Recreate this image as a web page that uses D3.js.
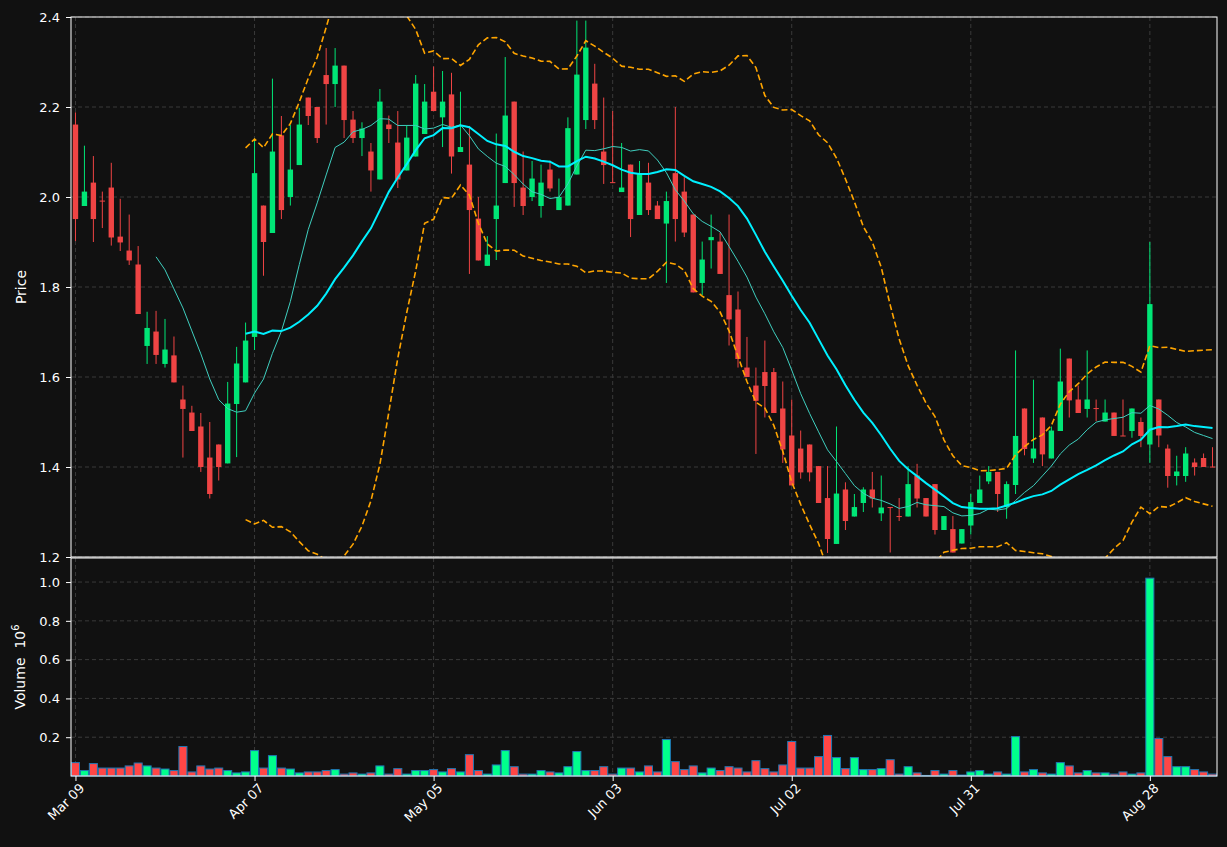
<!DOCTYPE html>
<html><head><meta charset="utf-8">
<script src="https://cdn.jsdelivr.net/npm/d3@7"></script>
<style>body{margin:0;background:#111111;}svg{display:block;}</style>
</head><body>
<script>
const tickLabels = ["Mar 09","Apr 07","May 05","Jun 03","Jul 02","Jul 31","Aug 28"];
const tickIndex = [0,20,40,60,80,100,120];
const open  = [2.161,1.980,2.032,1.992,2.021,1.912,1.881,1.850,1.669,1.701,1.629,1.648,1.550,1.521,1.490,1.421,1.450,1.408,1.540,1.588,
1.689,1.981,1.920,2.137,2.000,2.071,2.221,2.200,2.271,2.251,2.292,2.172,2.131,2.101,2.039,2.161,2.121,2.059,2.090,2.140,
2.234,2.177,2.228,2.100,2.072,1.952,1.847,1.951,2.031,2.212,2.021,2.000,1.980,2.061,1.971,1.981,2.050,2.171,2.252,2.101,
2.033,2.011,2.072,1.960,2.032,1.981,1.941,2.053,2.012,1.961,1.809,1.904,1.901,1.782,1.750,1.621,1.581,1.611,1.611,1.530,
1.470,1.441,1.450,1.402,1.331,1.229,1.350,1.290,1.320,1.350,1.297,1.311,1.291,1.290,1.381,1.331,1.362,1.260,1.262,1.230,
1.270,1.320,1.368,1.389,1.311,1.360,1.530,1.419,1.510,1.419,1.480,1.641,1.550,1.529,1.531,1.501,1.521,1.470,1.480,1.500,
1.450,1.550,1.441,1.380,1.380,1.410,1.420,1.401];
const close = [1.951,2.012,1.951,1.991,1.910,1.899,1.859,1.740,1.709,1.649,1.661,1.588,1.529,1.480,1.400,1.340,1.400,1.541,1.630,1.681,
2.053,1.900,2.101,1.971,2.061,2.161,2.180,2.131,2.251,2.292,2.171,2.131,2.152,2.059,2.212,2.151,2.039,2.132,2.252,2.212,
2.191,2.212,2.090,2.111,1.971,1.859,1.872,1.981,2.181,2.031,1.980,2.041,2.032,2.019,2.000,2.153,2.272,2.332,2.171,2.071,
2.031,2.021,1.951,2.051,1.971,1.951,1.991,1.951,1.921,1.788,1.861,1.911,1.829,1.728,1.640,1.600,1.547,1.580,1.520,1.439,
1.359,1.388,1.388,1.320,1.240,1.341,1.280,1.311,1.350,1.330,1.310,1.309,1.289,1.362,1.330,1.290,1.260,1.291,1.210,1.262,
1.322,1.350,1.389,1.340,1.362,1.469,1.440,1.441,1.428,1.481,1.590,1.548,1.520,1.550,1.529,1.521,1.469,1.469,1.530,1.469,
1.762,1.470,1.380,1.390,1.430,1.400,1.400,1.400];
const high  = [2.188,2.114,2.091,2.012,2.076,1.996,1.961,1.891,1.745,1.747,1.729,1.690,1.581,1.536,1.520,1.500,1.450,1.589,1.667,1.721,
2.130,1.981,2.263,2.180,2.160,2.198,2.221,2.200,2.331,2.331,2.292,2.191,2.166,2.120,2.240,2.181,2.191,2.160,2.271,2.251,
2.290,2.280,2.276,2.234,2.158,2.000,1.913,2.141,2.311,2.212,2.101,2.080,2.072,2.081,2.041,2.177,2.392,2.392,2.296,2.221,
2.191,2.120,2.072,2.080,2.076,1.991,2.012,2.200,2.044,1.961,1.901,1.961,1.921,1.961,1.790,1.689,1.621,1.681,1.620,1.590,
1.550,1.481,1.450,1.402,1.402,1.490,1.366,1.340,1.355,1.389,1.381,1.311,1.331,1.402,1.407,1.331,1.362,1.291,1.291,1.262,
1.340,1.381,1.402,1.389,1.368,1.659,1.530,1.594,1.510,1.490,1.663,1.641,1.581,1.659,1.550,1.550,1.521,1.550,1.530,1.510,
1.900,1.550,1.450,1.425,1.444,1.419,1.430,1.444];
const low   = [1.902,1.980,1.900,1.931,1.892,1.880,1.849,1.740,1.629,1.629,1.621,1.588,1.421,1.480,1.389,1.330,1.370,1.408,1.422,1.588,
1.660,1.825,1.920,1.951,1.981,2.071,2.160,2.120,2.161,2.200,2.131,2.120,2.091,2.012,2.039,2.120,2.020,2.059,2.090,2.140,
2.191,2.111,2.052,2.100,1.829,1.859,1.847,1.860,2.031,1.978,1.960,1.991,1.954,2.012,1.971,1.981,2.050,2.151,2.151,2.029,
2.031,2.011,1.911,1.960,1.960,1.951,1.809,1.901,1.911,1.788,1.782,1.841,1.829,1.670,1.621,1.600,1.429,1.510,1.520,1.409,
1.359,1.374,1.368,1.320,1.209,1.229,1.260,1.290,1.300,1.310,1.280,1.210,1.280,1.290,1.310,1.290,1.250,1.260,1.210,1.230,
1.250,1.320,1.362,1.300,1.285,1.340,1.426,1.409,1.402,1.419,1.480,1.510,1.520,1.510,1.502,1.501,1.469,1.469,1.465,1.444,
1.409,1.444,1.354,1.359,1.367,1.381,1.400,1.400];
const volume = [0.069,0.028,0.064,0.041,0.041,0.041,0.052,0.067,0.052,0.041,0.036,0.028,0.152,0.021,0.052,0.036,0.041,0.028,0.016,0.021,
0.131,0.041,0.105,0.041,0.036,0.016,0.021,0.021,0.028,0.033,0.010,0.016,0.010,0.016,0.052,0.010,0.038,0.010,0.028,0.028,
0.033,0.021,0.038,0.021,0.110,0.028,0.010,0.057,0.131,0.048,0.010,0.010,0.028,0.021,0.016,0.048,0.126,0.028,0.028,0.048,
0.010,0.041,0.041,0.021,0.052,0.021,0.188,0.074,0.033,0.052,0.016,0.041,0.028,0.048,0.041,0.021,0.079,0.038,0.021,0.057,
0.178,0.041,0.041,0.100,0.209,0.095,0.038,0.095,0.033,0.033,0.038,0.084,0.010,0.048,0.016,0.003,0.028,0.010,0.028,0.005,
0.021,0.028,0.010,0.021,0.010,0.203,0.021,0.033,0.016,0.010,0.069,0.052,0.016,0.028,0.016,0.016,0.010,0.021,0.010,0.016,
1.020,0.193,0.100,0.048,0.048,0.033,0.021,0.010];

const N = close.length;
const W = 1227, H = 847;
const L = 71, R = 1217, pTop = 17, pBot = 557, vTop = 558, vBot = 776;
const svg = d3.select("body").append("svg").attr("width", W).attr("height", H);
svg.append("rect").attr("width", W).attr("height", H).attr("fill", "#111111");
const defs = svg.append("defs");
defs.append("clipPath").attr("id","pc").append("rect").attr("x",L).attr("y",pTop).attr("width",R-L).attr("height",pBot-pTop);

const x = d3.scaleLinear().domain([-0.5, N - 0.5]).range([L, R]);
const y = d3.scaleLinear().domain([1.2, 2.4]).range([pBot, pTop]);
const yv = d3.scaleLinear().domain([0, 1.124]).range([vBot, vTop]);
const step = x(1) - x(0);

const gridC = "#3a3a3a";
const g = svg.append("g");
[1.2,1.4,1.6,1.8,2.0,2.2,2.4].forEach(v => g.append("line").attr("x1",L).attr("x2",R).attr("y1",y(v)).attr("y2",y(v)).attr("stroke",gridC).attr("stroke-dasharray","4,3"));
[0.2,0.4,0.6,0.8,1.0].forEach(v => g.append("line").attr("x1",L).attr("x2",R).attr("y1",yv(v)).attr("y2",yv(v)).attr("stroke",gridC).attr("stroke-dasharray","4,3"));
tickIndex.forEach(i => {
  g.append("line").attr("x1",x(i)).attr("x2",x(i)).attr("y1",pTop).attr("y2",pBot).attr("stroke",gridC).attr("stroke-dasharray","4,3");
  g.append("line").attr("x1",x(i)).attr("x2",x(i)).attr("y1",vTop).attr("y2",vBot).attr("stroke",gridC).attr("stroke-dasharray","4,3");
});

const UP = "#00e676", DN = "#ef4444";
const pc = svg.append("g").attr("clip-path","url(#pc)");
const idx = d3.range(N);
pc.selectAll("line.w").data(idx).join("line").attr("x1",i=>x(i)).attr("x2",i=>x(i))
  .attr("y1",i=>y(high[i])).attr("y2",i=>y(low[i])).attr("stroke",i=>close[i]>=open[i]?UP:DN).attr("stroke-width",1);
pc.selectAll("rect.b").data(idx).join("rect").attr("x",i=>x(i)-step*0.3).attr("width",step*0.6)
  .attr("y",i=>y(Math.max(open[i],close[i]))).attr("height",i=>Math.max(1,Math.abs(y(open[i])-y(close[i]))))
  .attr("fill",i=>close[i]>=open[i]?UP:DN);

function sma(n){ return idx.map(i => i < n-1 ? null : d3.mean(close.slice(i-n+1,i+1))); }
const ma10 = sma(10), ma20 = sma(20);
const bbU = idx.map(i => i<19?null: ma20[i] + 2*d3.deviation(close.slice(i-19,i+1))*Math.sqrt(19/20));
const bbL = idx.map(i => i<19?null: ma20[i] - 2*d3.deviation(close.slice(i-19,i+1))*Math.sqrt(19/20));
const line = arr => d3.line().defined(i=>arr[i]!==null).x(i=>x(i)).y(i=>y(arr[i]))(idx);
pc.append("path").attr("d",line(bbU)).attr("fill","none").attr("stroke","#ffa500").attr("stroke-width",1.6).attr("stroke-dasharray","6,3");
pc.append("path").attr("d",line(bbL)).attr("fill","none").attr("stroke","#ffa500").attr("stroke-width",1.6).attr("stroke-dasharray","6,3");
pc.append("path").attr("d",line(ma10)).attr("fill","none").attr("stroke","#3fcfbf").attr("stroke-width",1);
pc.append("path").attr("d",line(ma20)).attr("fill","none").attr("stroke","#00f0ff").attr("stroke-width",2);

svg.append("g").selectAll("rect").data(idx).join("rect")
  .attr("x",i=>x(i)-step*0.45).attr("width",step*0.9)
  .attr("y",i=>yv(volume[i])).attr("height",i=>vBot-yv(volume[i]))
  .attr("fill",i=>close[i]>=open[i]?"#00ff8c":"#ff4646").attr("stroke","#1f77b4").attr("stroke-width",1);

svg.append("rect").attr("x",L).attr("y",pTop).attr("width",R-L).attr("height",pBot-pTop).attr("fill","none").attr("stroke","#ffffff").attr("stroke-width",1);
svg.append("rect").attr("x",L).attr("y",vTop).attr("width",R-L).attr("height",vBot-vTop).attr("fill","none").attr("stroke","#ffffff").attr("stroke-width",1);

const font = "DejaVu Sans, sans-serif";
const yAx = svg.append("g").attr("transform",`translate(${L},0)`).call(d3.axisLeft(y).tickValues([1.2,1.4,1.6,1.8,2.0,2.2,2.4]).tickFormat(d3.format(".1f")).tickSize(5).tickPadding(6).tickSizeOuter(0));
const vAx = svg.append("g").attr("transform",`translate(${L},0)`).call(d3.axisLeft(yv).tickValues([0.2,0.4,0.6,0.8,1.0]).tickFormat(d3.format(".1f")).tickSize(5).tickPadding(6).tickSizeOuter(0));
const xAx = svg.append("g").attr("transform",`translate(0,${vBot})`).call(d3.axisBottom(x).tickValues(tickIndex).tickFormat((d,k)=>tickLabels[k]).tickSize(5).tickSizeOuter(0));
[yAx,vAx,xAx].forEach(a=>{ a.select(".domain").remove(); a.selectAll("line").attr("stroke","#fff");
  a.selectAll("text").attr("fill","#fff").style("font-family",font).style("font-size","13px"); });
xAx.selectAll("text").attr("text-anchor","end").attr("dx","-0.2em").attr("dy","0.6em").attr("transform","rotate(-45)");

svg.append("text").attr("transform",`translate(26,${(pTop+pBot)/2}) rotate(-90)`).attr("text-anchor","middle")
  .attr("fill","#fff").style("font-family",font).style("font-size","14px").text("Price");
const vl = svg.append("text").attr("transform",`translate(25,${(vTop+vBot)/2}) rotate(-90)`).attr("text-anchor","middle")
  .attr("fill","#fff").style("font-family",font).style("font-size","14px");
vl.append("tspan").text("Volume\u00a0\u00a010");
vl.append("tspan").attr("dy","-6").style("font-size","10px").text("6");
</script>
</body></html>
